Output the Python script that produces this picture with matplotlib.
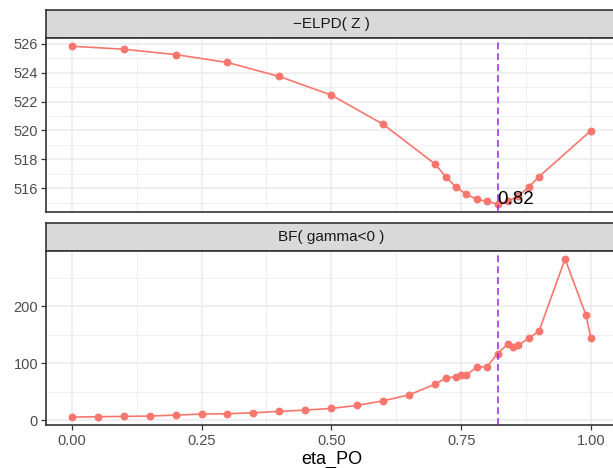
import matplotlib
matplotlib.use("Agg")
import matplotlib.pyplot as plt
import numpy as np
from matplotlib.ticker import MultipleLocator

# -ELPD(Z) across eta_PO
eta_elpd = [0.0, 0.1, 0.2, 0.3, 0.4, 0.5, 0.6, 0.7, 0.72, 0.74, 0.76, 0.78,
            0.80, 0.82, 0.84, 0.86, 0.88, 0.90, 1.0]
elpd = [525.84, 525.63, 525.26, 524.71, 523.74, 522.45, 520.42, 517.66, 516.80,
        516.07, 515.57, 515.22, 515.08, 514.89, 515.10, 515.45, 516.07, 516.80, 519.99]

# Bayes factor for gamma < 0 across eta_PO
eta_bf = [0.0, 0.05, 0.1, 0.15, 0.2, 0.25, 0.3, 0.35, 0.4, 0.45, 0.5, 0.55, 0.6,
          0.65, 0.7, 0.72, 0.74, 0.75, 0.76, 0.78, 0.80, 0.82, 0.84, 0.85, 0.86,
          0.88, 0.90, 0.95, 0.99, 1.0]
bf = [5.2, 5.8, 6.4, 7.0, 8.7, 10.5, 11.1, 12.8, 15.2, 17.5, 20.4, 25.7, 33.8,
      44.3, 63.0, 73.5, 76.4, 78.7, 79.9, 92.7, 93.9, 116.6, 133.5, 128.9, 131.2,
      143.4, 156.3, 282.8, 184.8, 143.4]

eta_opt = 0.82
opt_label = "0.82"
strip_titles = ["\u2212ELPD( Z )", "BF( gamma<0 )"]
x_label = "eta_PO"

plt.rcParams["font.family"] = ["Liberation Sans", "DejaVu Sans"]

W, H = 613, 468
fig = plt.figure(figsize=(W / 100, H / 100), dpi=100)

LINE_COL = "#F8766D"
VLINE_COL = "#A020F0"
BORDER = "#333333"
GRID = "#EBEBEB"


def px_axes(left, top, right, bottom):
    return fig.add_axes([left / W, 1 - bottom / H, (right - left) / W, (bottom - top) / H])


def expand(vals, frac=0.05):
    lo, hi = min(vals), max(vals)
    d = (hi - lo) * frac
    return lo - d, hi + d


LEFT, RIGHT = 45.7, 617.0
panels = [
    (9.7, 38.3, 212.0, eta_elpd, elpd, 2, 1),
    (222.7, 251.0, 425.0, eta_bf, bf, 100, 50),
]

xlim = expand([0.0, 1.0])
for i, (s_top, p_top, p_bot, xs, ys, major, minor) in enumerate(panels):
    # facet strip
    sax = px_axes(LEFT, s_top, RIGHT, p_top)
    sax.set_facecolor("#D9D9D9")
    sax.set_xticks([])
    sax.set_yticks([])
    for sp in sax.spines.values():
        sp.set_color(BORDER)
        sp.set_linewidth(1.2)
    sax.text(0.5, 0.5, strip_titles[i], transform=sax.transAxes,
             ha="center", va="center", fontsize=11, color="#1A1A1A")

    ax = px_axes(LEFT, p_top, RIGHT, p_bot)
    ax.set_xlim(*xlim)
    ax.set_ylim(*expand(ys))
    ax.xaxis.set_major_locator(MultipleLocator(0.25))
    ax.xaxis.set_minor_locator(MultipleLocator(0.125))
    ax.yaxis.set_major_locator(MultipleLocator(major))
    ax.yaxis.set_minor_locator(MultipleLocator(minor))
    ax.grid(which="major", color=GRID, linewidth=1.1)
    ax.grid(which="minor", color=GRID, linewidth=0.55)
    ax.set_axisbelow(True)
    for sp in ax.spines.values():
        sp.set_color(BORDER)
        sp.set_linewidth(1.2)
    ax.tick_params(which="minor", length=0)
    ax.tick_params(which="major", axis="y", length=3.5, width=0.9, color=BORDER,
                   labelsize=10.5, labelcolor="#4D4D4D", pad=2)
    ax.tick_params(which="major", axis="x", length=3.5, width=0.9, color=BORDER,
                   labelsize=10.5, labelcolor="#4D4D4D", pad=3)

    ax.plot(xs, ys, color=LINE_COL, linewidth=1.2, zorder=3)
    ax.scatter(xs, ys, s=32, color=LINE_COL, zorder=4, linewidths=0)
    ax.axvline(eta_opt, color=VLINE_COL, linewidth=1.1, linestyle=(0, (4.5, 2.6)), zorder=5)

    if i == 0:
        ax.tick_params(axis="x", which="both", bottom=False, labelbottom=False)
        ax.text(eta_opt, min(ys), opt_label, ha="left", va="baseline",
                fontsize=13.5, color="black", zorder=6)
    else:
        ax.set_xticks([0.0, 0.25, 0.5, 0.75, 1.0])
        ax.set_xticklabels(["0.00", "0.25", "0.50", "0.75", "1.00"])
        ax.set_xlabel(x_label, fontsize=13, color="black", labelpad=2)

fig.savefig("out.png", dpi=100)
